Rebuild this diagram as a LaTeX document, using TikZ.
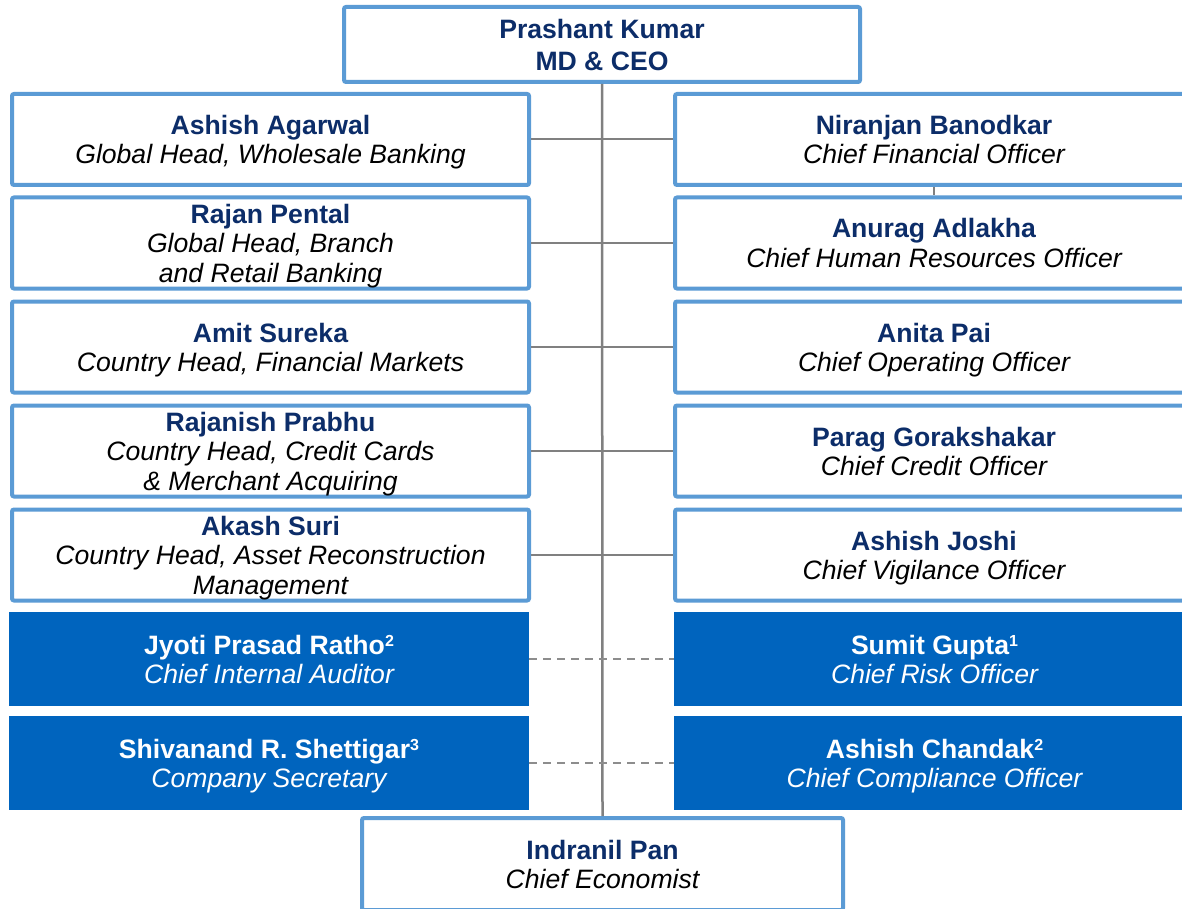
\documentclass[tikz,border=0pt]{standalone}
\usepackage{fontspec}
\setmainfont{Liberation Sans}
\definecolor{bordblue}{HTML}{5B9BD5}
\definecolor{fillblue}{HTML}{0064BE}
\definecolor{navy}{HTML}{0C2D69}
\definecolor{linegray}{HTML}{808080}
\newcommand{\mystrut}{\rule[-0.5pt]{0pt}{20.5pt}}
\newcommand{\nm}[1]{\mystrut\smash{\bfseries\color{navy}#1}}
\newcommand{\tl}[1]{\mystrut\smash{\itshape #1}}
\newcommand{\wn}[1]{\mystrut\smash{\bfseries #1}}
\newcommand{\sups}[1]{\raisebox{8pt}{\fontsize{16}{16}\selectfont\bfseries #1}}
\begin{document}
\begin{tikzpicture}[x=1pt,y=-1pt,
  every node/.style={font=\fontsize{26.6}{29.5}\selectfont, align=center, inner sep=0pt},
  obox/.style={draw=bordblue, line width=4pt, rounded corners=2pt, fill=white, minimum height=91pt},
  lbox/.style={obox, minimum width=517pt},
  rbox/.style={obox, minimum width=518pt},
  fbox/.style={fill=fillblue, text=white, minimum height=94pt},
  lfbox/.style={fbox, minimum width=520pt},
  rfbox/.style={fbox, minimum width=521pt},
  conn/.style={draw=linegray, line width=2pt},
  vconn/.style={draw=linegray, line width=2.5pt},
  dconn/.style={draw=linegray!90, line width=2pt, dash pattern=on 8pt off 6pt}
]
\useasboundingbox (0,0) rectangle (1182,909);
\clip (0,0) rectangle (1182,909);
\fill[white] (0,0) rectangle (1182,909);

% bottom box and top box
\node[obox, minimum width=481pt, minimum height=92pt] (pan) at (602.5,864) {\nm{Indranil Pan}\\\tl{Chief Economist}};
\node[obox, minimum width=516pt, minimum height=75pt, font=\fontsize{26.6}{32}\selectfont] (ceo) at (602,44.5) {\nm{Prashant Kumar}\\\nm{MD \& CEO}};

% vertical spine
\draw[vconn] (ceo.south) -- (pan.north);

% left column
\node[lbox] (l1) at (270.5,139.5) {\nm{Ashish Agarwal}\\\tl{Global Head, Wholesale Banking}};
\node[lbox] (l2) at (270.5,243) {\nm{Rajan Pental}\\\tl{Global Head, Branch}\\\tl{and Retail Banking}};
\node[lbox] (l3) at (270.5,347) {\nm{Amit Sureka}\\\tl{Country Head, Financial Markets}};
\node[lbox] (l4) at (270.5,451) {\nm{Rajanish Prabhu}\\\tl{Country Head, Credit Cards}\\\tl{\& Merchant Acquiring}};
\node[lbox] (l5) at (270.5,555) {\nm{Akash Suri}\\\tl{Country Head, Asset Reconstruction}\\\tl{Management}};

% right column
\node[rbox] (r1) at (934,139.5) {\nm{Niranjan Banodkar}\\\tl{Chief Financial Officer}};
\node[rbox] (r2) at (934,243) {\nm{Anurag Adlakha}\\\tl{Chief Human Resources Officer}};
\node[rbox] (r3) at (934,347) {\nm{Anita Pai}\\\tl{Chief Operating Officer}};
\node[rbox] (r4) at (934,451) {\nm{Parag Gorakshakar}\\\tl{Chief Credit Officer}};
\node[rbox] (r5) at (934,555) {\nm{Ashish Joshi}\\\tl{Chief Vigilance Officer}};

% filled boxes
\node[lfbox] (lf1) at (269,659) {\wn{Jyoti Prasad Ratho\sups{2}}\\\tl{Chief Internal Auditor}};
\node[lfbox] (lf2) at (269,763) {\wn{Shivanand R. Shettigar\sups{3}}\\\tl{Company Secretary}};
\node[rfbox] (rf1) at (934.5,659) {\wn{Sumit Gupta\sups{1}}\\\tl{Chief Risk Officer}};
\node[rfbox] (rf2) at (934.5,763) {\wn{Ashish Chandak\sups{2}}\\\tl{Chief Compliance Officer}};

% horizontal connectors
\foreach \i in {1,...,5} {\draw[conn] (l\i.east) -- (r\i.west);}
\draw[conn, line width=1.5pt] (r1.south) -- (r2.north);
\draw[dconn] (lf1.east) -- (rf1.west);
\draw[dconn] (lf2.east) -- (rf2.west);
\end{tikzpicture}
\end{document}
